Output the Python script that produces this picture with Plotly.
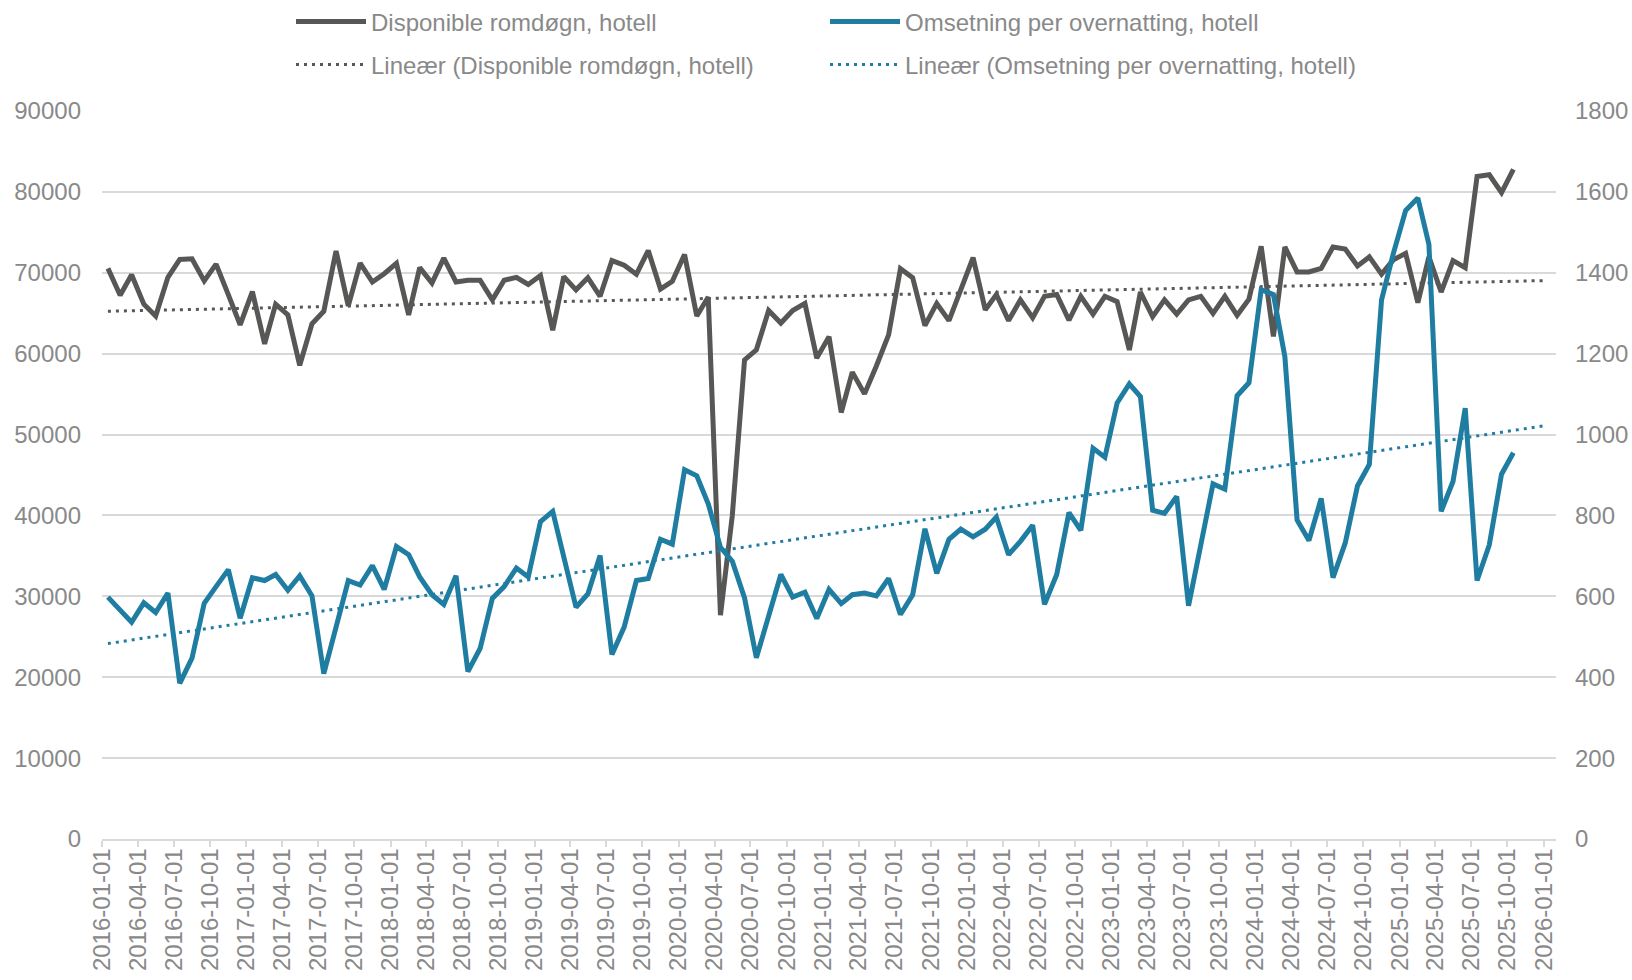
import numpy as np
import pandas as pd
import plotly.graph_objects as go

# ---- data (monthly, 2016-01 .. 2025-10) ----
start_month = "2016-01-01"
n_months = 118

disponible_romdogn = [
    70540, 67225, 69750, 66120, 64660, 69440, 71650, 71730, 69000, 71070, 67300, 63560,
    67670, 61210, 66120, 64800, 58560, 63690, 65240, 72700, 65900, 71200, 68860, 69880,
    71160, 64800, 70630, 68730, 71820, 68860, 69080, 69080, 66650, 69080, 69440, 68550,
    69660, 62900, 69530, 67890, 69390, 67090, 71510, 70940, 69830, 72750, 67980, 68950,
    72270, 64660, 67000, 27670, 40000, 59230, 60470, 65330, 63780, 65330, 66210, 59450,
    62100, 52730, 57720, 55030, 58480, 62320, 70500, 69390, 63470, 66210, 64090, 67760,
    71870, 65410, 67310, 64090, 66650, 64440, 67090, 67310, 64130, 67090, 64880, 67090,
    66430, 60460, 67620, 64570, 66650, 64880, 66650, 67090, 64970, 67090, 64750, 66740,
    73280, 62140, 73190, 70100, 70100, 70540, 73190, 72930, 70850, 71960, 69830, 71600,
    72400, 66300, 71960, 67620, 71510, 70630, 81900, 82120, 79910, 82780,
]

omsetning_per_overnatting = [
    598, 568, 536, 584, 560, 608, 385, 447, 583, 624, 666, 546,
    646, 639, 654, 615, 651, 601, 409, 524, 639, 628, 676, 617,
    723, 703, 648, 604, 580, 651, 414, 471, 595, 624, 670, 648,
    785, 810, 692, 573, 606, 701, 456, 524, 639, 644, 741, 729,
    913, 898, 829, 721, 687, 596, 448, 546, 654, 598, 610, 545,
    617, 582, 604, 608, 601, 644, 555, 604, 767, 657, 741, 766,
    747, 766, 796, 703, 736, 776, 580, 654, 807, 763, 966, 944,
    1078, 1125, 1094, 813, 805, 847, 577, 727, 878, 865, 1096, 1128,
    1358, 1346, 1193, 789, 738, 842, 646, 732, 873, 926, 1333, 1448,
    1554, 1585, 1470, 810, 884, 1065, 639, 727, 902, 955,
]

name_a = "Disponible romdøgn, hotell"
name_b = "Omsetning per overnatting, hotell"
name_ta = "Lineær (Disponible romdøgn, hotell)"
name_tb = "Lineær (Omsetning per overnatting, hotell)"

left_ticks = list(range(0, 90001, 10000))
right_ticks = list(range(0, 1801, 200))

# ---- derived ----
months = pd.date_range(start_month, periods=n_months, freq="MS")
x_mid = months + pd.Timedelta(days=15)          # centre of each month slot
tick_dates = pd.date_range("2016-01-01", "2026-01-01", freq="QS")

idx = np.arange(n_months)
end_idx = 119.5                                 # trend runs to 2026-01-01
trend_x = [x_mid[0], pd.Timestamp("2026-01-01")]
ca = np.polyfit(idx, disponible_romdogn, 1)
cb = np.polyfit(idx, omsetning_per_overnatting, 1)
trend_a = [np.polyval(ca, 0), np.polyval(ca, end_idx)]
trend_b = [np.polyval(cb, 0), np.polyval(cb, end_idx)]

GRAY = "#575856"
BLUE = "#1f7da2"
TXT = "#898989"
GRID = "#d9d9d9"
FONT = "Liberation Sans, Arial, sans-serif"

fig = go.Figure()
fig.add_trace(go.Scatter(x=x_mid, y=disponible_romdogn, name=name_a, mode="lines",
                         line=dict(color=GRAY, width=5), yaxis="y", legend="legend"))
fig.add_trace(go.Scatter(x=x_mid, y=omsetning_per_overnatting, name=name_b, mode="lines",
                         line=dict(color=BLUE, width=5), yaxis="y2", legend="legend"))
fig.add_trace(go.Scatter(x=trend_x, y=trend_a, name=name_ta, mode="lines",
                         line=dict(color=GRAY, width=3, dash="3px,5px"), yaxis="y", legend="legend2"))
fig.add_trace(go.Scatter(x=trend_x, y=trend_b, name=name_tb, mode="lines",
                         line=dict(color=BLUE, width=3, dash="3px,5px"), yaxis="y2", legend="legend2"))

legend_common = dict(orientation="h", xref="container", yref="container",
                     xanchor="left", yanchor="middle", entrywidth=449, entrywidthmode="pixels",
                     itemwidth=70, font=dict(family=FONT, size=24, color=TXT),
                     bgcolor="rgba(0,0,0,0)", traceorder="normal")

fig.update_layout(
    width=1632, height=980,
    margin=dict(l=102, r=76, t=111, b=141, autoexpand=False),
    paper_bgcolor="white", plot_bgcolor="white",
    font=dict(family=FONT, size=24, color=TXT),
    showlegend=True,
    legend=dict(x=291 / 1632, y=1 - 22 / 980, **legend_common),
    legend2=dict(x=291 / 1632, y=1 - 65 / 980, **legend_common),
    xaxis=dict(
        type="date", range=["2016-01-01", "2026-02-01"], automargin=False,
        tickmode="array", tickvals=list(tick_dates), tickformat="%Y-%m-%d",
        tickangle=-90, ticks="outside", ticklen=6, tickwidth=1.5, tickcolor=GRID,
        showline=True, linecolor=GRID, linewidth=1.5, showgrid=False, zeroline=False,
        tickfont=dict(family=FONT, size=24, color=TXT), ticklabelstandoff=-8,
    ),
    yaxis=dict(
        range=[0, 90000], tickmode="array", tickvals=left_ticks, tickformat="d",
        automargin=False,
        showgrid=True, gridcolor=GRID, gridwidth=1.5, zeroline=False,
        ticks="", tickfont=dict(family=FONT, size=24, color=TXT), ticklabelstandoff=20,
    ),
    yaxis2=dict(
        range=[0, 1800], tickmode="array", tickvals=right_ticks, tickformat="d",
        overlaying="y", side="right", automargin=False,
        showgrid=False, zeroline=False,
        ticks="", tickfont=dict(family=FONT, size=24, color=TXT), ticklabelstandoff=18,
    ),
)

fig.write_html("out.html", config={"displayModeBar": False},
               post_script="document.body.style.margin='0';")
